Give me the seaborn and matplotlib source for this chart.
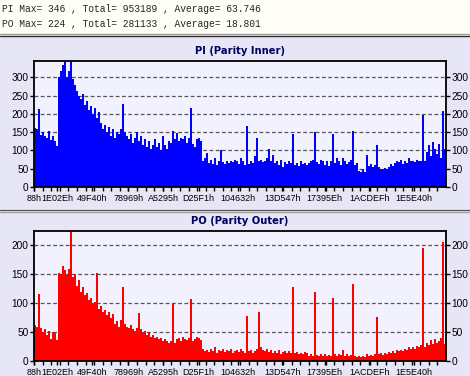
import numpy as np
import pandas as pd
import seaborn as sns
import matplotlib.pyplot as plt
from matplotlib.patches import Rectangle
from matplotlib.lines import Line2D

# values, one value per ~2px bar
pi_values = [162, 158, 212, 143, 150, 140, 135, 152, 128, 140, 125,
             112,
             300, 318, 335, 346, 300, 318, 346, 295, 280,
             262, 250, 240, 255,
             225, 235, 210, 222, 200, 215, 190, 205,
             175, 160, 170, 150, 165, 140, 158, 135, 150, 145, 160, 226,
             150, 140, 130, 145, 120, 135, 150, 125, 140, 115, 130, 110, 125, 105, 115, 130, 110, 120, 100, 140, 115, 105, 125,
             120, 152, 130, 148, 125, 135, 130, 140, 120, 135, 215, 118, 110, 130, 135, 125,
             70, 78, 92, 65, 75, 62, 78, 60, 72, 101, 68, 62, 70, 65, 72, 68, 75, 70, 62, 78,
             70, 60, 167, 62, 72, 66, 85, 135, 70, 75, 68, 72, 80, 105, 72, 88, 65, 70, 60, 75,
             55, 68, 62, 70, 65, 145, 60, 66, 58, 70, 62, 65, 60,
             65, 72, 75, 150, 68, 62, 75, 70, 60, 72, 58, 70, 145, 65, 80, 72, 60, 78, 70, 62,
             68, 75, 153, 60, 65, 45, 40, 50, 42, 87, 58, 62, 55, 60, 116, 55, 50, 48, 52, 50,
             55, 62, 58, 65, 72, 68, 75, 62, 70, 65, 78, 70, 72, 68, 75, 70, 72, 198, 70, 95,
             115, 85, 122, 105, 90, 118, 80, 207, 105]

po_values = [63, 60, 116, 58, 50, 55, 45, 52, 38, 50, 48,
             36,
             152, 150, 165, 158, 148, 160, 224, 145, 150,
             130, 140, 120, 128, 115, 118, 105, 110, 98, 102, 152, 90,
             95, 85, 88, 80, 85, 75, 82, 65, 70, 60, 72, 128,
             65, 60, 58, 62, 55, 52, 58, 83, 55, 48, 52, 45, 50, 42, 45, 40, 42, 38, 40, 35, 38, 35, 32,
             35, 100, 32, 38, 40, 35, 42, 38, 36, 40, 107, 35, 38, 42, 40, 36,
             22, 18, 20, 16, 22, 18, 25, 15, 20, 18, 22, 16, 19, 17, 21, 15, 18, 20, 16, 22,
             18, 15, 78, 17, 20, 14, 18, 22, 85, 25, 20, 18, 22, 16, 20, 14, 18, 15, 19, 13,
             16, 18, 14, 17, 15, 128, 14, 16, 12, 15, 13, 16, 14,
             10, 12, 9, 119, 11, 10, 13, 9, 12, 10, 11, 9, 110, 12, 10, 13, 11, 20, 10, 12,
             9, 11, 133, 10, 8, 9, 7, 10, 8, 12, 9, 11, 10, 12, 76, 12, 14, 11, 15, 13,
             16, 14, 18, 15, 19, 17, 20, 18, 22, 20, 24, 21, 25, 22, 26, 24, 28, 196, 25, 32,
             28, 36, 30, 38, 32, 35, 40, 205, 29]

x_labels = ["88h", "1E02Eh", "49F40h", "78969h", "A5295h", "D25F1h",
            "104632h", "13D547h", "17395Eh", "1ACDEFh", "1E5E40h"]
x_max = 0x20EA00

header = ["PI Max= 346 , Total= 953189 , Average= 63.746",
          "PO Max= 224 , Total= 281133 , Average= 18.801"]

sns.set_theme(style="white")
plt.rcParams["font.family"] = ["Liberation Sans", "DejaVu Sans"]

W, H = 470, 376
fig = plt.figure(figsize=(W / 100, H / 100), dpi=100)
fig.patch.set_facecolor("#FEFEF6")

panel_bg = "#E6E6F6"
plot_bg = "#F2F2FF"

def fy(y):
    return 1 - y / H

# panel backgrounds and separators
fig.add_artist(Rectangle((0, fy(209)), 1, (209 - 37) / H, transform=fig.transFigure,
                         facecolor=panel_bg, edgecolor="none", zorder=0))
fig.add_artist(Rectangle((0, 0), 1, (376 - 212) / H, transform=fig.transFigure,
                         facecolor=panel_bg, edgecolor="none", zorder=0))
for y, c in [(33.5, "#A0A0A0"), (35.5, "#303030"), (209.5, "#505050"), (211.5, "#A0A0A0")]:
    fig.add_artist(Line2D([0, 1], [fy(y), fy(y)], transform=fig.transFigure, color=c, lw=1))

fig.text(2 / W, fy(9), header[0], family="Liberation Mono", fontsize=6.9, va="center", ha="left")
fig.text(2 / W, fy(24), header[1], family="Liberation Mono", fontsize=6.9, va="center", ha="left")

n = len(pi_values)
bw = x_max / n
centers = (np.arange(n) + 0.5) * bw
df = pd.DataFrame({"offset": centers, "PI": pi_values, "PO": po_values})
tick_pos = [int(s[:-1], 16) for s in x_labels]

panels = [
    ("PI", "PI (Parity Inner)", "#0000FF", 346, (60.5, 187), 51.5),
    ("PO", "PO (Parity Outer)", "#FF0000", 224, (231.4, 361.3), 221.5),
]
for col, title, color, ymax, (top, bottom), title_y in panels:
    ax = fig.add_axes([34 / W, fy(bottom), 412 / W, (bottom - top) / H])
    ax.set_facecolor(plot_bg)
    ax.set_axisbelow(True)
    ax.yaxis.grid(True, color="#555555", linestyle=(0, (3, 2)), lw=0.9)
    sns.histplot(data=df, x="offset", weights=col, binwidth=bw, binrange=(0, x_max),
                 color=color, alpha=1, linewidth=0, ax=ax)
    ax.set_xlim(0, x_max)
    ax.set_ylim(0, ymax)
    ax.set_xlabel("")
    ax.set_ylabel("")
    ax.set_yticks(range(0, ymax + 1, 50))
    ax.set_xticks(tick_pos)
    ax.set_xticklabels(x_labels)
    ax.set_xticks(np.arange(0, x_max, x_max / 48), minor=True)
    ax.tick_params(axis="y", left=True, right=True, labelleft=True, labelright=True,
                   direction="out", length=3, width=1, pad=1, labelsize=7.3, colors="black")
    ax.tick_params(axis="x", which="both", bottom=True, direction="out", length=3,
                   width=1, pad=2, labelsize=6.5, colors="black")
    for s in ax.spines.values():
        s.set_color("black")
        s.set_linewidth(1.3)
    fig.text(240 / W, fy(title_y), title, family="DejaVu Sans", fontweight="bold",
             fontsize=7.2, color="#000060", ha="center", va="center")

fig.savefig("out.png", dpi=100)
